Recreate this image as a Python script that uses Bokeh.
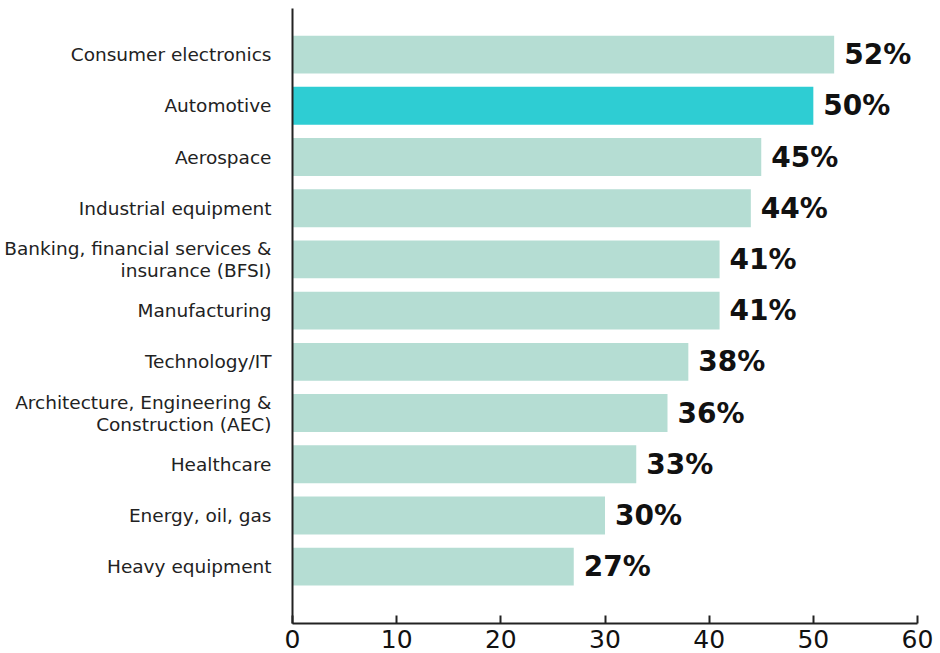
from bokeh.plotting import figure
from bokeh.models import Range1d, FixedTicker, ColumnDataSource
from bokeh.embed import file_html
from bokeh.resources import INLINE
from bokeh.core.properties import value

categories = [
    "Consumer electronics",
    "Automotive",
    "Aerospace",
    "Industrial equipment",
    "Banking, financial services &\ninsurance (BFSI)",
    "Manufacturing",
    "Technology/IT",
    "Architecture, Engineering &\nConstruction (AEC)",
    "Healthcare",
    "Energy, oil, gas",
    "Heavy equipment",
]
values = [52, 50, 45, 44, 41, 41, 38, 36, 33, 30, 27]
highlight = "Automotive"
x_ticks = [0, 10, 20, 30, 40, 50, 60]

pos = list(range(len(categories)))
colors = ["#2ecdd3" if c == highlight else "#b5ddd3" for c in categories]
labels = [f"{v}%" for v in values]

src = ColumnDataSource(dict(y=pos, v=values, c=colors, lab=labels))

FONT = "DejaVu Sans"

p = figure(width=940, height=653, output_backend="svg", toolbar_location=None,
           x_range=Range1d(0, 60), y_range=Range1d(len(categories) + 0.11, -0.9),
           min_border_left=292, min_border_right=23, min_border_top=8, min_border_bottom=30)
p.outline_line_color = None
p.grid.visible = False
p.background_fill_color = "white"
p.border_fill_color = "white"

p.hbar(y="y", left=0, right="v", height=0.74, color="c", line_color=None, source=src)
p.text(x="v", y="y", text="lab", source=src, x_offset=10, text_baseline="middle",
       text_align="left", text_font=value(FONT), text_font_style="bold",
       text_font_size="28px", text_color="#111111")

xa = p.xaxis[0]
xa.ticker = FixedTicker(ticks=x_ticks)
xa.major_tick_in = 8
xa.major_tick_out = 0
xa.minor_tick_line_color = None
xa.axis_line_color = "#222222"
xa.axis_line_width = 2
xa.major_tick_line_color = "#222222"
xa.major_tick_line_width = 2
xa.major_label_text_font = FONT
xa.major_label_text_font_size = "25px"
xa.major_label_text_color = "#111111"
xa.major_label_standoff = 6

ya = p.yaxis[0]
ya.ticker = FixedTicker(ticks=pos)
ya.major_label_overrides = {i: c for i, c in enumerate(categories)}
ya.major_tick_line_color = None
ya.minor_tick_line_color = None
ya.axis_line_color = "#222222"
ya.axis_line_width = 2
ya.major_label_text_font = FONT
ya.major_label_text_font_size = "18.5px"
ya.major_label_text_color = "#222222"
ya.major_label_text_line_height = 1.05
ya.major_label_standoff = 15

open("out.html", "w").write(file_html(p, INLINE))
